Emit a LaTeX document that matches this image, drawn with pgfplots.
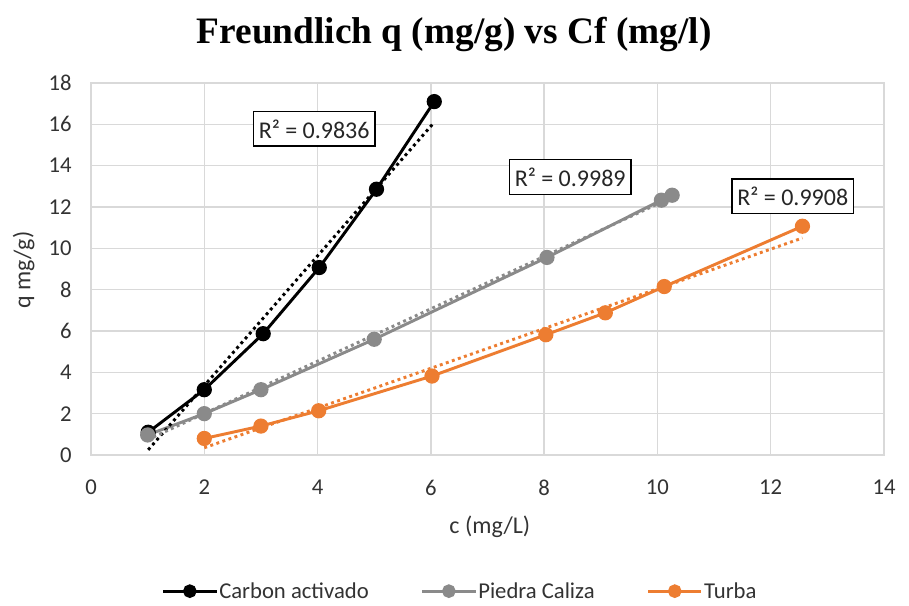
\documentclass[border=0pt]{standalone}
\usepackage{pgfplots}
\pgfplotsset{compat=1.18}
\usepackage{fontspec}
\setmainfont{Carlito}
\newfontfamily\titlefont{Liberation Serif}
\definecolor{cgray}{HTML}{8A8A8A}
\definecolor{corange}{HTML}{ED7D31}
\definecolor{cgrid}{HTML}{D9D9D9}
\begin{document}
\begin{tikzpicture}
\useasboundingbox (-68.25pt,-113.25pt) rectangle (613.5pt,341.25pt);
\begin{axis}[
  at={(0,0)}, anchor=south west,
  scale only axis, width=594.75pt, height=279pt,
  xmin=0, xmax=14, ymin=0, ymax=18,
  xtick={0,2,...,14}, ytick={0,2,...,18},
  grid=major, major grid style={draw=cgrid, line width=1pt},
  axis line style={draw=cgrid, line width=1pt},
  tick style={draw=none},
  /pgf/number format/assume math mode=true,
  ticklabel style={font=\fontsize{17}{19}\selectfont, text=black!80},
  xticklabel style={yshift=-15pt},
  yticklabel style={xshift=-11pt},
  xlabel={c (mg/L)},
  ylabel={q mg/g)},
  xlabel style={at={(axis description cs:0.503,-0.194)}, anchor=center, font=\fontsize{18}{20}\selectfont, text=black!80},
  ylabel style={at={(axis description cs:-0.085,0.497)}, anchor=center, rotate=0, font=\fontsize{18}{20}\selectfont, text=black!80},
  title={Freundlich q (mg/g) vs Cf (mg/l)},
  title style={at={(axis description cs:0.458,1.108)}, anchor=center, font=\titlefont\bfseries\fontsize{28}{32}\selectfont},
  legend columns=3,
  legend style={at={(axis description cs:0.465,-0.366)}, anchor=center, draw=none,
    font=\fontsize{17}{19}\selectfont, text=black!80,
    nodes={inner xsep=1pt},
    /tikz/every odd column/.append style={column sep=0pt},
    /tikz/every even column/.append style={column sep=38pt}},
  legend image code/.code={\draw[mark repeat=2,mark phase=2,mark size=4pt] plot coordinates {(0pt,0pt)(20pt,0pt)(40pt,0pt)};},
  every axis plot/.append style={line width=2.2pt, mark=*, mark size=4.6pt},
]
\addplot[black, mark options={fill=black}] coordinates {
 (1.01,1.10) (2.00,3.16) (3.04,5.87) (4.03,9.07) (5.04,12.86) (6.06,17.10)};
\addlegendentry{Carbon activado}
\addplot[cgray, mark options={fill=cgray}] coordinates {
 (1.00,0.97) (2.00,2.00) (3.00,3.16) (5.00,5.60) (8.05,9.56) (10.07,12.33) (10.26,12.57)};
\addlegendentry{Piedra Caliza}
\addplot[corange, mark options={fill=corange}] coordinates {
 (2.00,0.80) (3.00,1.40) (4.02,2.14) (6.02,3.82) (8.03,5.82) (9.08,6.88) (10.12,8.15) (12.56,11.07)};
\addlegendentry{Turba}
% linear trendlines (dotted)
\addplot[forget plot, black, no marks, line width=2.2pt, dash pattern=on 2.2pt off 2.6pt] coordinates {(1.01,0.25) (6.06,16.1)};
\addplot[forget plot, cgray, no marks, line width=2.2pt, dash pattern=on 2.2pt off 2.6pt] coordinates {(1.00,0.74) (10.26,12.47)};
\addplot[forget plot, corange, no marks, line width=2.2pt, dash pattern=on 2.2pt off 2.6pt] coordinates {(2.00,0.35) (12.56,10.5)};
\node[draw=black, line width=1.2pt, fill=white, inner xsep=4pt, inner ysep=6pt, font=\fontsize{18}{20}\selectfont, text=black!85] at (axis cs:3.94,15.78) {R² = 0.9836};
\node[draw=black, line width=1.2pt, fill=white, inner xsep=4pt, inner ysep=6pt, font=\fontsize{18}{20}\selectfont, text=black!85] at (axis cs:8.46,13.45) {R² = 0.9989};
\node[draw=black, line width=1.2pt, fill=white, inner xsep=4pt, inner ysep=6pt, font=\fontsize{18}{20}\selectfont, text=black!85] at (axis cs:12.39,12.52) {R² = 0.9908};
\end{axis}
\end{tikzpicture}
\end{document}
